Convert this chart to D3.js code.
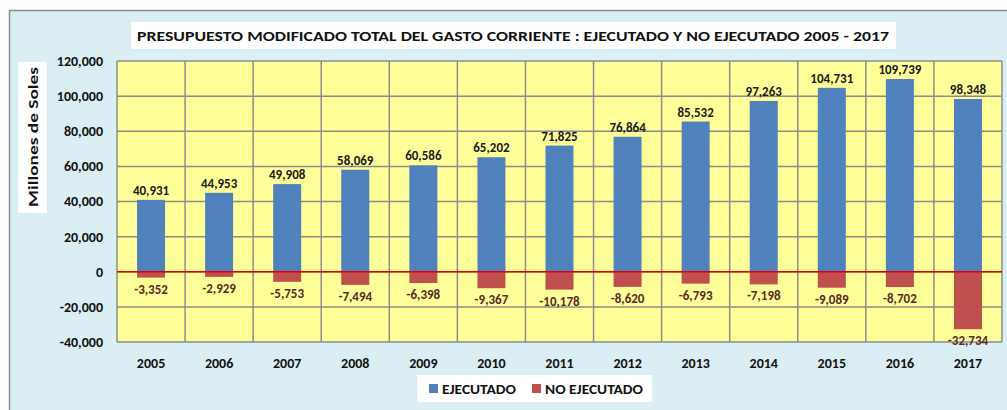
<!DOCTYPE html>
<html>
<head>
<meta charset="utf-8">
<script src="https://cdn.jsdelivr.net/npm/d3@7"></script>
<style>
  html, body { margin: 0; padding: 0; background: #fff; }
  svg text { font-family: Carlito, Lato, "Open Sans", sans-serif; font-weight: bold; }
</style>
</head>
<body>
<svg id="chart" width="1007" height="410"></svg>
<script>
// Chart data
const years = ['2005', '2006', '2007', '2008', '2009', '2010', '2011', '2012', '2013', '2014', '2015', '2016', '2017'];
const ejecutado = [40931, 44953, 49908, 58069, 60586, 65202, 71825, 76864, 85532, 97263, 104731, 109739, 98348];
const noEjecutado = [-3352, -2929, -5753, -7494, -6398, -9367, -10178, -8620, -6793, -7198, -9089, -8702, -32734];
const yTicks = [-40000, -20000, 0, 20000, 40000, 60000, 80000, 100000, 120000];
const seriesNames = ['EJECUTADO', 'NO EJECUTADO'];

const COLORS = {
  blue: '#4f81bd',
  red: '#c0504d',
  plotBg: '#ffff99',
  chartBg: '#daeef3',
  grid: '#8c8c8c',
  zero: '#e00000',
  negLabel: '#5a2a28'
};

const svg = d3.select('#chart');
// plain hyphen for negatives, as in the source chart
const fmt = d3.formatLocale({
  decimal: '.', thousands: ',', grouping: [3], currency: ['', ''], minus: '-'
}).format(',');

// Chart area background
svg.append('rect')
  .attr('x', 9.5).attr('y', 10.5)
  .attr('width', 1010).attr('height', 410)
  .attr('fill', COLORS.chartBg)
  .attr('stroke', '#8c8c8c')
  .attr('stroke-width', 1.5);

const plot = { left: 117, top: 61, right: 1002, bottom: 342 };

const x = d3.scaleBand()
  .domain(years)
  .range([plot.left, plot.right])
  .paddingInner(0)
  .paddingOuter(0);

const y = d3.scaleLinear()
  .domain([-40000, 120000])
  .range([plot.bottom, plot.top]);

// Plot area
svg.append('rect')
  .attr('x', plot.left).attr('y', plot.top)
  .attr('width', plot.right - plot.left).attr('height', plot.bottom - plot.top)
  .attr('fill', COLORS.plotBg);

// Gridlines
svg.append('g')
  .selectAll('line')
  .data(yTicks)
  .join('line')
  .attr('x1', plot.left).attr('x2', plot.right)
  .attr('y1', d => y(d)).attr('y2', d => y(d))
  .attr('stroke', COLORS.grid)
  .attr('stroke-width', 1.5);

svg.append('g')
  .selectAll('line')
  .data(years.concat(['end']))
  .join('line')
  .attr('x1', d => d === 'end' ? plot.right : x(d))
  .attr('x2', d => d === 'end' ? plot.right : x(d))
  .attr('y1', plot.top).attr('y2', plot.bottom)
  .attr('stroke', COLORS.grid)
  .attr('stroke-width', 1.5);

// Bars — both series share the same slot
const barW = 28;
const cx = d => x(d) + x.bandwidth() / 2;

svg.append('g')
  .selectAll('rect')
  .data(years)
  .join('rect')
  .attr('x', d => cx(d) - barW / 2)
  .attr('y', (d, i) => y(ejecutado[i]))
  .attr('width', barW)
  .attr('height', (d, i) => y(0) - y(ejecutado[i]))
  .attr('fill', COLORS.blue);

svg.append('g')
  .selectAll('rect')
  .data(years)
  .join('rect')
  .attr('x', d => cx(d) - barW / 2)
  .attr('y', y(0))
  .attr('width', barW)
  .attr('height', (d, i) => y(noEjecutado[i]) - y(0))
  .attr('fill', COLORS.red);

// Zero line
svg.append('line')
  .attr('x1', plot.left).attr('x2', plot.right)
  .attr('y1', y(0)).attr('y2', y(0))
  .attr('stroke', COLORS.zero)
  .attr('stroke-width', 1.5);

// Value labels
svg.append('g')
  .selectAll('text')
  .data(years)
  .join('text')
  .attr('x', d => cx(d))
  .attr('y', (d, i) => y(ejecutado[i]) - 5)
  .attr('text-anchor', 'middle')
  .attr('font-size', 13)
  .attr('fill', '#1a1a1a')
  .text((d, i) => fmt(ejecutado[i]));

svg.append('g')
  .selectAll('text')
  .data(years)
  .join('text')
  .attr('x', d => cx(d))
  .attr('y', (d, i) => y(noEjecutado[i]) + 16)
  .attr('text-anchor', 'middle')
  .attr('font-size', 13)
  .attr('fill', COLORS.negLabel)
  .text((d, i) => fmt(noEjecutado[i]));

// Y axis
const yAxis = d3.axisLeft(y)
  .tickValues(yTicks)
  .tickFormat(fmt)
  .tickSize(0)
  .tickPadding(14);

const yg = svg.append('g')
  .attr('transform', `translate(${plot.left},0)`)
  .call(yAxis);
yg.select('.domain').remove();
yg.selectAll('text')
  .attr('font-size', 14)
  .attr('fill', '#111')
  .style('font-family', 'Carlito, Lato, sans-serif');

// X axis
const xAxis = d3.axisBottom(x).tickSize(0).tickPadding(16);
const xg = svg.append('g')
  .attr('transform', `translate(0,${plot.bottom})`)
  .call(xAxis);
xg.select('.domain').remove();
xg.selectAll('text')
  .attr('font-size', 14)
  .attr('fill', '#111')
  .style('font-family', 'Carlito, Lato, sans-serif');

// Title
svg.append('rect')
  .attr('x', 131).attr('y', 22)
  .attr('width', 765).attr('height', 27)
  .attr('fill', '#fff');
svg.append('text')
  .attr('x', 513).attr('y', 41)
  .attr('text-anchor', 'middle')
  .attr('font-size', 14)
  .attr('fill', '#111')
  .attr('textLength', 752)
  .attr('lengthAdjust', 'spacingAndGlyphs')
  .text('PRESUPUESTO MODIFICADO TOTAL DEL GASTO CORRIENTE : EJECUTADO Y NO EJECUTADO 2005 - 2017');

// Y axis title
svg.append('rect')
  .attr('x', 18).attr('y', 62)
  .attr('width', 29).attr('height', 151)
  .attr('fill', '#fff');
svg.append('text')
  .attr('transform', 'translate(38,137) rotate(-90)')
  .attr('text-anchor', 'middle')
  .attr('font-size', 14)
  .attr('fill', '#111')
  .attr('textLength', 140)
  .attr('lengthAdjust', 'spacingAndGlyphs')
  .text('Millones de Soles');

// Legend
svg.append('rect')
  .attr('x', 417).attr('y', 375)
  .attr('width', 235).attr('height', 27)
  .attr('fill', '#fff');

const legendX = [429, 532];
const legendW = [74, 98];
const legend = svg.append('g')
  .selectAll('g')
  .data(seriesNames)
  .join('g')
  .attr('transform', (d, i) => `translate(${legendX[i]},389)`);
legend.append('rect')
  .attr('x', 0).attr('y', -5)
  .attr('width', 9).attr('height', 9)
  .attr('fill', (d, i) => [COLORS.blue, COLORS.red][i]);
legend.append('text')
  .attr('x', 13).attr('y', 5)
  .attr('font-size', 14)
  .attr('fill', '#111')
  .attr('textLength', (d, i) => legendW[i])
  .attr('lengthAdjust', 'spacingAndGlyphs')
  .text(d => d);
</script>
</body>
</html>
